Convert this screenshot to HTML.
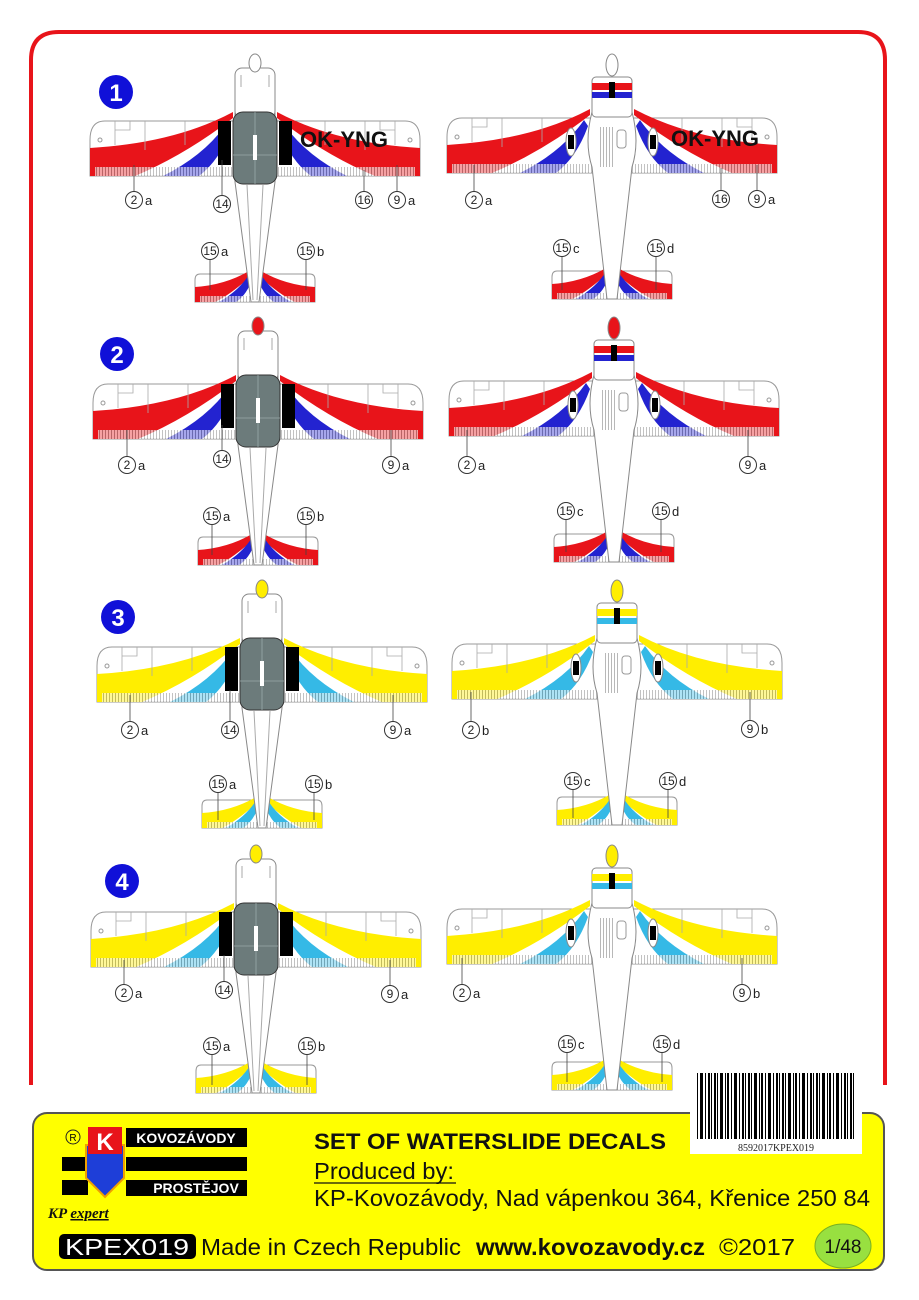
<!DOCTYPE html>
<html><head><meta charset="utf-8"><style>
html,body{margin:0;padding:0;background:#fff;}
svg{display:block;font-family:"Liberation Sans",sans-serif;}
.lc{fill:#fff;stroke:#333;stroke-width:1;}
.ln{stroke:#444;stroke-width:0.8;}
.t{font-size:13px;fill:#222;}
.tn{font-size:12px;fill:#222;text-anchor:middle;}
</style></head><body>
<svg width="919" height="1300" viewBox="0 0 919 1300" xmlns="http://www.w3.org/2000/svg">
<defs>
<pattern id="hatch" width="3" height="10" patternUnits="userSpaceOnUse"><rect width="3" height="10" fill="#fff"/><rect width="1" height="10" fill="#999"/></pattern>
<pattern id="bars" width="34" height="70" patternUnits="userSpaceOnUse">
<rect width="34" height="70" fill="#fff"/>
<rect x="0" width="2" height="70" fill="#000"/><rect x="3" width="1" height="70" fill="#000"/><rect x="6" width="3" height="70" fill="#000"/><rect x="11" width="1" height="70" fill="#000"/><rect x="13" width="2" height="70" fill="#000"/><rect x="17" width="1" height="70" fill="#000"/><rect x="20" width="3" height="70" fill="#000"/><rect x="25" width="1" height="70" fill="#000"/><rect x="28" width="2" height="70" fill="#000"/><rect x="31" width="1" height="70" fill="#000"/>
</pattern>

<g id="wingHalf">
<path d="M0,66 H-150 Q-165,66 -165,85 V121 H0Z" fill="#fff" stroke="#999" stroke-width="1"/>
<path d="M-165,93 Q-80,88 -22,57 L-22,63 Q-70,100 -120,121 H-165Z" style="fill:var(--a)"/>
<path d="M-92,121 Q-50,100 -28,68 L-24,74 Q-35,105 -56,121Z" style="fill:var(--b)"/>
<rect x="-160" y="112" width="160" height="9" fill="url(#hatch)" opacity="0.6"/>
<path d="M-140,66 V90 M-110,66 V95 M-70,66 V90 M-140,75 H-125 V66" stroke="#aaa" stroke-width="0.8" fill="none"/>
<circle cx="-155" cy="85" r="2" fill="none" stroke="#999"/>
<path d="M-55,219 H0 V247 H-60 V225 Q-60,219 -55,219Z" fill="#fff" stroke="#999"/>
<path d="M-60,232 Q-30,230 -6,216 L-4,221 Q-25,240 -40,247 H-60Z" style="fill:var(--a)"/>
<path d="M-36,247 Q-15,235 -5,218 L-2,222 Q-8,240 -19,247Z" style="fill:var(--b)"/>
<rect x="-55" y="241" width="55" height="6" fill="url(#hatch)" opacity="0.6"/>
</g>

<g id="L">
<use href="#wingHalf"/>
<use href="#wingHalf" transform="scale(-1,1)"/>
<path d="M-20,58 L-20,127 L-4,247 L4,247 L20,127 L20,58Z" fill="#fff" stroke="#888"/>
<path d="M-8,130 L-2,245 M8,130 L2,245" stroke="#aaa" fill="none"/>
<rect x="-20" y="13" width="40" height="50" rx="7" fill="#fff" stroke="#888"/>
<path d="M-14,20 v12 M14,20 v12" stroke="#aaa"/>
<ellipse cx="0" cy="8" rx="6" ry="9" style="fill:var(--s)" stroke="#888"/>
<rect x="-22" y="57" width="44" height="72" rx="10" fill="#6c7b7b" stroke="#333"/>
<path d="M0,57 V129 M-22,100 H22" stroke="#9aa" stroke-width="0.8"/>
<rect x="-2" y="80" width="4" height="25" fill="#fff"/>
<rect x="-37" y="66" width="13" height="44" fill="#000"/>
<rect x="24" y="66" width="13" height="44" fill="#000"/>
</g>

<g id="R">
<use href="#wingHalf"/>
<use href="#wingHalf" transform="scale(-1,1)"/>
<path d="M-20,60 Q-28,90 -20,115 L-5,247 L5,247 L20,115 Q28,90 20,60Z" fill="#fff" stroke="#888"/>
<rect x="-20" y="25" width="40" height="40" rx="4" fill="#fff" stroke="#888"/>
<rect x="-20" y="31" width="40" height="7" style="fill:var(--a)"/>
<rect x="-20" y="40" width="40" height="6" style="fill:var(--b)"/>
<rect x="-3" y="30" width="6" height="16" fill="#000"/>
<ellipse cx="0" cy="13" rx="6" ry="11" style="fill:var(--s)" stroke="#888"/>
<rect x="-12" y="75" width="14" height="40" fill="url(#hatch)" opacity="0.7"/>
<rect x="5" y="78" width="9" height="18" rx="3" fill="#fff" stroke="#999"/>
<ellipse cx="-41" cy="90" rx="5" ry="14" fill="#fff" stroke="#888"/>
<ellipse cx="41" cy="90" rx="5" ry="14" fill="#fff" stroke="#888"/>
<rect x="-44" y="83" width="6" height="14" fill="#000"/>
<rect x="38" y="83" width="6" height="14" fill="#000"/>
</g>
</defs>

<rect width="919" height="1300" fill="#fff"/>
<path d="M31,1085 V60 Q31,32 59,32 H858 Q885,32 885,60 V1085" fill="none" stroke="#e8141a" stroke-width="4"/>

<use href="#L" transform="translate(255,55)" style="--a:#e8141a;--b:#2323d0;--s:#fff"/>
<use href="#R" transform="translate(612,52)" style="--a:#e8141a;--b:#2323d0;--s:#fff"/>
<use href="#L" transform="translate(258,318)" style="--a:#e8141a;--b:#2323d0;--s:#e8141a"/>
<use href="#R" transform="translate(614,315)" style="--a:#e8141a;--b:#2323d0;--s:#e8141a"/>
<use href="#L" transform="translate(262,581)" style="--a:#ffee00;--b:#35b9e6;--s:#ffee00"/>
<use href="#R" transform="translate(617,578)" style="--a:#ffee00;--b:#35b9e6;--s:#ffee00"/>
<use href="#L" transform="translate(256,846)" style="--a:#ffee00;--b:#35b9e6;--s:#ffee00"/>
<use href="#R" transform="translate(612,843)" style="--a:#ffee00;--b:#35b9e6;--s:#ffee00"/>

<text x="300" y="147" font-size="22" font-weight="bold" fill="#111">OK-YNG</text>
<text x="671" y="146" font-size="22" font-weight="bold" fill="#111">OK-YNG</text>

<g font-weight="bold" font-size="24" fill="#fff" text-anchor="middle">
<circle cx="116" cy="92" r="17" fill="#1010d8"/><text x="116" y="101">1</text>
<circle cx="117" cy="354" r="17" fill="#1010d8"/><text x="117" y="363">2</text>
<circle cx="118" cy="617" r="17" fill="#1010d8"/><text x="118" y="626">3</text>
<circle cx="122" cy="881" r="17" fill="#1010d8"/><text x="122" y="890">4</text>
</g>

<g>
<line class="ln" x1="134" y1="191" x2="134" y2="165"/><circle class="lc" cx="134" cy="200" r="8.5"/><text class="tn" x="134" y="204">2</text><text class="t" x="145" y="205">a</text>
<line class="ln" x1="222" y1="195" x2="222" y2="160"/><circle class="lc" cx="222" cy="204" r="8.5"/><text class="tn" x="222" y="208">14</text>
<line class="ln" x1="364" y1="191" x2="364" y2="170"/><circle class="lc" cx="364" cy="200" r="8.5"/><text class="tn" x="364" y="204">16</text>
<line class="ln" x1="397" y1="191" x2="397" y2="165"/><circle class="lc" cx="397" cy="200" r="8.5"/><text class="tn" x="397" y="204">9</text><text class="t" x="408" y="205">a</text>
<line class="ln" x1="210" y1="260" x2="210" y2="290"/><circle class="lc" cx="210" cy="251" r="8.5"/><text class="tn" x="210" y="255">15</text><text class="t" x="221" y="256">a</text>
<line class="ln" x1="306" y1="260" x2="306" y2="290"/><circle class="lc" cx="306" cy="251" r="8.5"/><text class="tn" x="306" y="255">15</text><text class="t" x="317" y="256">b</text>
<line class="ln" x1="474" y1="191" x2="474" y2="165"/><circle class="lc" cx="474" cy="200" r="8.5"/><text class="tn" x="474" y="204">2</text><text class="t" x="485" y="205">a</text>
<line class="ln" x1="721" y1="190" x2="721" y2="168"/><circle class="lc" cx="721" cy="199" r="8.5"/><text class="tn" x="721" y="203">16</text>
<line class="ln" x1="757" y1="190" x2="757" y2="165"/><circle class="lc" cx="757" cy="199" r="8.5"/><text class="tn" x="757" y="203">9</text><text class="t" x="768" y="204">a</text>
<line class="ln" x1="562" y1="257" x2="562" y2="290"/><circle class="lc" cx="562" cy="248" r="8.5"/><text class="tn" x="562" y="252">15</text><text class="t" x="573" y="253">c</text>
<line class="ln" x1="656" y1="257" x2="656" y2="290"/><circle class="lc" cx="656" cy="248" r="8.5"/><text class="tn" x="656" y="252">15</text><text class="t" x="667" y="253">d</text>
<line class="ln" x1="127" y1="456" x2="127" y2="430"/><circle class="lc" cx="127" cy="465" r="8.5"/><text class="tn" x="127" y="469">2</text><text class="t" x="138" y="470">a</text>
<line class="ln" x1="222" y1="450" x2="222" y2="425"/><circle class="lc" cx="222" cy="459" r="8.5"/><text class="tn" x="222" y="463">14</text>
<line class="ln" x1="391" y1="456" x2="391" y2="430"/><circle class="lc" cx="391" cy="465" r="8.5"/><text class="tn" x="391" y="469">9</text><text class="t" x="402" y="470">a</text>
<line class="ln" x1="212" y1="525" x2="212" y2="555"/><circle class="lc" cx="212" cy="516" r="8.5"/><text class="tn" x="212" y="520">15</text><text class="t" x="223" y="521">a</text>
<line class="ln" x1="306" y1="525" x2="306" y2="555"/><circle class="lc" cx="306" cy="516" r="8.5"/><text class="tn" x="306" y="520">15</text><text class="t" x="317" y="521">b</text>
<line class="ln" x1="467" y1="456" x2="467" y2="430"/><circle class="lc" cx="467" cy="465" r="8.5"/><text class="tn" x="467" y="469">2</text><text class="t" x="478" y="470">a</text>
<line class="ln" x1="748" y1="456" x2="748" y2="430"/><circle class="lc" cx="748" cy="465" r="8.5"/><text class="tn" x="748" y="469">9</text><text class="t" x="759" y="470">a</text>
<line class="ln" x1="566" y1="520" x2="566" y2="552"/><circle class="lc" cx="566" cy="511" r="8.5"/><text class="tn" x="566" y="515">15</text><text class="t" x="577" y="516">c</text>
<line class="ln" x1="661" y1="520" x2="661" y2="552"/><circle class="lc" cx="661" cy="511" r="8.5"/><text class="tn" x="661" y="515">15</text><text class="t" x="672" y="516">d</text>
<line class="ln" x1="130" y1="721" x2="130" y2="695"/><circle class="lc" cx="130" cy="730" r="8.5"/><text class="tn" x="130" y="734">2</text><text class="t" x="141" y="735">a</text>
<line class="ln" x1="230" y1="721" x2="230" y2="690"/><circle class="lc" cx="230" cy="730" r="8.5"/><text class="tn" x="230" y="734">14</text>
<line class="ln" x1="393" y1="721" x2="393" y2="695"/><circle class="lc" cx="393" cy="730" r="8.5"/><text class="tn" x="393" y="734">9</text><text class="t" x="404" y="735">a</text>
<line class="ln" x1="218" y1="793" x2="218" y2="820"/><circle class="lc" cx="218" cy="784" r="8.5"/><text class="tn" x="218" y="788">15</text><text class="t" x="229" y="789">a</text>
<line class="ln" x1="314" y1="793" x2="314" y2="820"/><circle class="lc" cx="314" cy="784" r="8.5"/><text class="tn" x="314" y="788">15</text><text class="t" x="325" y="789">b</text>
<line class="ln" x1="471" y1="721" x2="471" y2="692"/><circle class="lc" cx="471" cy="730" r="8.5"/><text class="tn" x="471" y="734">2</text><text class="t" x="482" y="735">b</text>
<line class="ln" x1="750" y1="720" x2="750" y2="692"/><circle class="lc" cx="750" cy="729" r="8.5"/><text class="tn" x="750" y="733">9</text><text class="t" x="761" y="734">b</text>
<line class="ln" x1="573" y1="790" x2="573" y2="818"/><circle class="lc" cx="573" cy="781" r="8.5"/><text class="tn" x="573" y="785">15</text><text class="t" x="584" y="786">c</text>
<line class="ln" x1="668" y1="790" x2="668" y2="818"/><circle class="lc" cx="668" cy="781" r="8.5"/><text class="tn" x="668" y="785">15</text><text class="t" x="679" y="786">d</text>
<line class="ln" x1="124" y1="984" x2="124" y2="960"/><circle class="lc" cx="124" cy="993" r="8.5"/><text class="tn" x="124" y="997">2</text><text class="t" x="135" y="998">a</text>
<line class="ln" x1="224" y1="981" x2="224" y2="955"/><circle class="lc" cx="224" cy="990" r="8.5"/><text class="tn" x="224" y="994">14</text>
<line class="ln" x1="390" y1="985" x2="390" y2="960"/><circle class="lc" cx="390" cy="994" r="8.5"/><text class="tn" x="390" y="998">9</text><text class="t" x="401" y="999">a</text>
<line class="ln" x1="212" y1="1055" x2="212" y2="1085"/><circle class="lc" cx="212" cy="1046" r="8.5"/><text class="tn" x="212" y="1050">15</text><text class="t" x="223" y="1051">a</text>
<line class="ln" x1="307" y1="1055" x2="307" y2="1085"/><circle class="lc" cx="307" cy="1046" r="8.5"/><text class="tn" x="307" y="1050">15</text><text class="t" x="318" y="1051">b</text>
<line class="ln" x1="462" y1="984" x2="462" y2="958"/><circle class="lc" cx="462" cy="993" r="8.5"/><text class="tn" x="462" y="997">2</text><text class="t" x="473" y="998">a</text>
<line class="ln" x1="742" y1="984" x2="742" y2="958"/><circle class="lc" cx="742" cy="993" r="8.5"/><text class="tn" x="742" y="997">9</text><text class="t" x="753" y="998">b</text>
<line class="ln" x1="567" y1="1053" x2="567" y2="1082"/><circle class="lc" cx="567" cy="1044" r="8.5"/><text class="tn" x="567" y="1048">15</text><text class="t" x="578" y="1049">c</text>
<line class="ln" x1="662" y1="1053" x2="662" y2="1082"/><circle class="lc" cx="662" cy="1044" r="8.5"/><text class="tn" x="662" y="1048">15</text><text class="t" x="673" y="1049">d</text>
</g>

<rect x="33" y="1113" width="851" height="157" rx="14" fill="#ffff00" stroke="#555" stroke-width="2"/>
<rect x="690" y="1070" width="172" height="84" fill="#fff"/>
<rect x="696" y="1073" width="160" height="66" fill="url(#bars)"/>
<text x="776" y="1151" font-family="Liberation Serif" font-size="10" text-anchor="middle" fill="#222">8592017KPEX019</text>

<circle cx="73" cy="1137" r="7" fill="none" stroke="#222"/><text x="73" y="1141" font-size="10" text-anchor="middle">R</text>
<rect x="62" y="1157" width="26" height="14" fill="#000"/>
<rect x="62" y="1180" width="26" height="15" fill="#000"/>
<path d="M86,1145 H124 V1178 L105,1197 L86,1178Z" fill="#1e3ed8" stroke="#f0a000" stroke-width="2"/>
<rect x="88" y="1127" width="34" height="27" fill="#e8141a"/>
<text x="105" y="1150" font-size="24" font-weight="bold" fill="#fff" text-anchor="middle">K</text>
<rect x="126" y="1128" width="121" height="19" fill="#000"/>
<text x="186" y="1143" font-size="14" font-weight="bold" fill="#fff" text-anchor="middle">KOVOZÁVODY</text>
<rect x="126" y="1157" width="121" height="14" fill="#000"/>
<rect x="126" y="1180" width="121" height="16" fill="#000"/>
<text x="196" y="1193" font-size="14" font-weight="bold" fill="#fff" text-anchor="middle">PROSTĚJOV</text>
<text x="48" y="1218" font-size="15" font-style="italic" font-weight="bold" fill="#111" font-family="Liberation Serif">KP <tspan text-decoration="underline">expert</tspan></text>

<text x="314" y="1149" font-size="22" font-weight="bold" fill="#111" textLength="352" lengthAdjust="spacingAndGlyphs">SET OF WATERSLIDE DECALS</text>
<text x="314" y="1179" font-size="23" fill="#111" textLength="140" lengthAdjust="spacingAndGlyphs">Produced by:</text>
<line x1="314" y1="1183" x2="456" y2="1183" stroke="#111" stroke-width="1.2"/>
<text x="314" y="1206" font-size="23" fill="#111" textLength="556" lengthAdjust="spacingAndGlyphs">KP-Kovozávody, Nad vápenkou 364, Křenice 250 84</text>

<rect x="59" y="1234" width="137" height="25" rx="5" fill="#000"/>
<text x="127" y="1255" font-size="23" fill="#fff" text-anchor="middle" textLength="124" lengthAdjust="spacingAndGlyphs">KPEX019</text>
<text x="201" y="1255" font-size="23" fill="#111" textLength="260" lengthAdjust="spacingAndGlyphs">Made in Czech Republic</text>
<text x="476" y="1255" font-size="23" font-weight="bold" fill="#111" textLength="229" lengthAdjust="spacingAndGlyphs">www.kovozavody.cz</text>
<text x="719" y="1255" font-size="23" fill="#111" textLength="76" lengthAdjust="spacingAndGlyphs">©2017</text>
<ellipse cx="843" cy="1246" rx="28" ry="22" fill="#98e040" stroke="#7ab020"/>
<text x="843" y="1253" font-size="19" fill="#111" text-anchor="middle">1/48</text>
</svg>
</body></html>
